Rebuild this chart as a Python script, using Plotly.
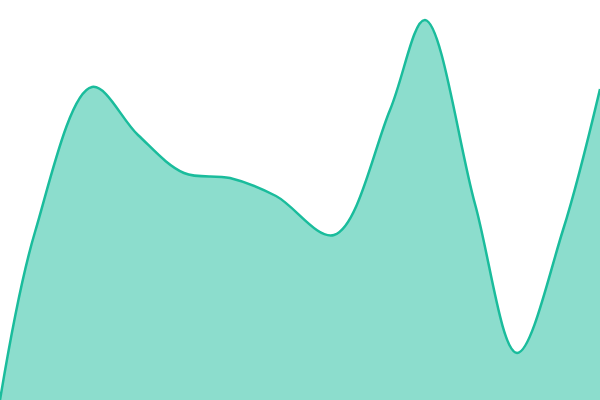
import plotly.graph_objects as go

# points (x position, value)
xs = [0, 35, 92, 138, 184, 230, 276, 334, 390, 425, 475, 517, 563, 600]
vals = [0, 168, 313, 265, 227, 222, 204, 165, 290, 380, 196, 47, 170, 311]

fig = go.Figure()
fig.add_trace(go.Scatter(
    x=xs, y=vals,
    mode="lines",
    line=dict(shape="spline", smoothing=1.0, color="#1abc9c", width=2.5),
    fill="tozeroy",
    fillcolor="rgba(26,188,156,0.5)",
    hoverinfo="skip",
))

fig.update_layout(
    width=600, height=400,
    margin=dict(l=0, r=0, t=0, b=0),
    paper_bgcolor="white", plot_bgcolor="white",
    showlegend=False,
    xaxis=dict(range=[0, 600], visible=False, fixedrange=True),
    yaxis=dict(range=[0, 400], visible=False, fixedrange=True),
)

# page has a default 8px body margin, drop it so the chart fills the window
fig.write_html("out.html", config={"displayModeBar": False},
               post_script="document.body.style.margin='0';document.body.style.overflow='hidden';")
